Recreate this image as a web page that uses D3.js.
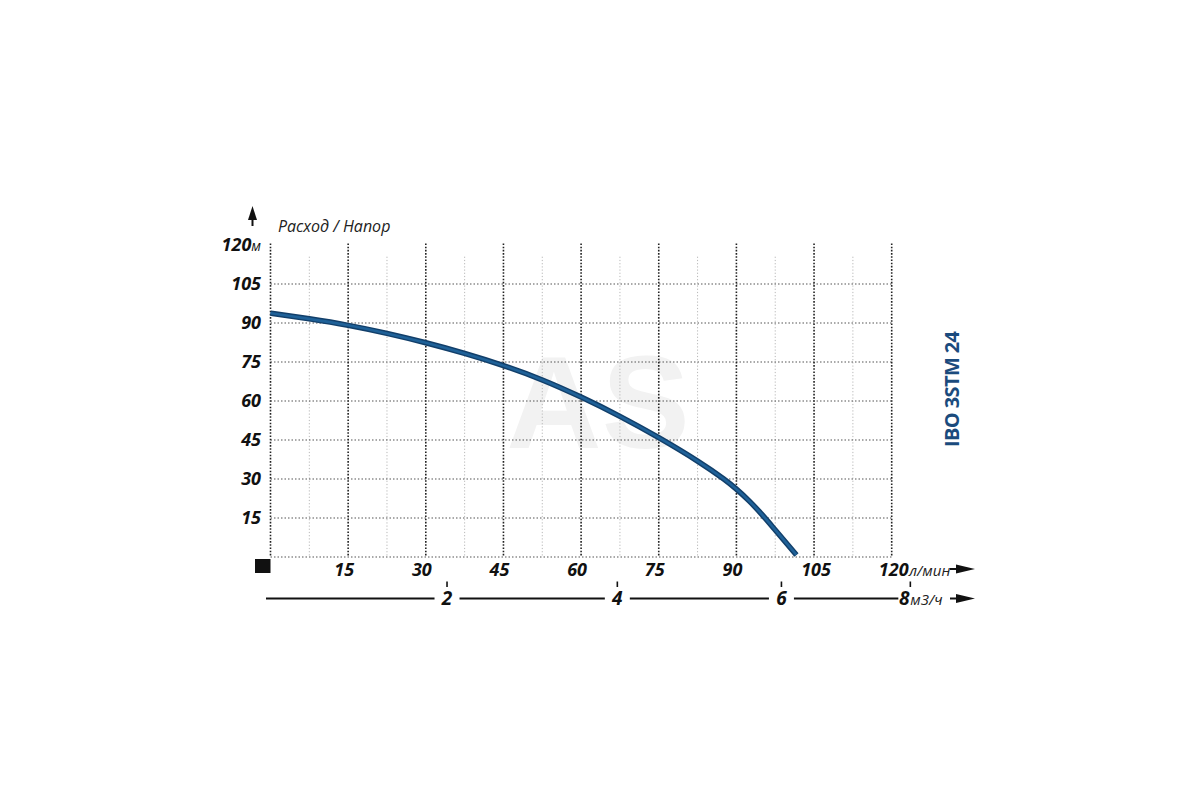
<!DOCTYPE html>
<html>
<head>
<meta charset="utf-8">
<script src="https://cdn.jsdelivr.net/npm/d3@7/dist/d3.min.js"></script>
<style>
html,body{margin:0;padding:0;background:#fff;}
svg{display:block;}
</style>
</head>
<body>
<script>
// ---- data ----
const flowLmin = [0, 7.5, 15, 22.5, 30, 37.5, 45, 52.5, 60, 67.5, 75, 82.5, 87.5, 90, 92.5, 95, 97.5, 101.6];
const headM    = [93.8, 91.6, 89.1, 86.0, 82.4, 78.3, 73.6, 68.1, 61.5, 54.1, 45.9, 36.9, 30.1, 26.1, 21.5, 16.2, 10.4, 0.8];
const xTicks = [15, 30, 45, 60, 75, 90, 105, 120];
const yTicks = [15, 30, 45, 60, 75, 90, 105, 120];
const xMinor = [7.5, 22.5, 37.5, 52.5, 67.5, 82.5, 97.5, 112.5];
const m3hLabels = [2, 4, 6, 8];
const m3hAtLmin = [34.1, 67.0, 98.7, 123.6]; // position of each m3/h mark on the l/min scale
const title = "IBO 3STM 24";
const yTitle = "Расход / Напор";
const yUnit = "м";
const xUnit = "л/мин";
const x2Unit = "м3/ч";

const W = 1200, H = 800;
const svg = d3.select("body").append("svg").attr("width", W).attr("height", H);

const x = d3.scaleLinear().domain([0, 120]).range([270.5, 891.7]);
const y = d3.scaleLinear().domain([0, 120]).range([557, 245]);

const FONT = "'Open Sans', 'DejaVu Sans', sans-serif";

// watermark
svg.append("text").attr("x", 598).attr("y", 448).attr("text-anchor", "middle")
  .attr("font-family", "'Liberation Sans', Arial, sans-serif").attr("font-weight", "bold")
  .attr("font-size", 132).attr("fill", "#f2f2f2").text("AS");

const grid = svg.append("g");
// minor verticals
grid.selectAll("line.minor").data(xMinor).join("line")
  .attr("x1", d => x(d)).attr("x2", d => x(d))
  .attr("y1", y(115.5)).attr("y2", y(0))
  .attr("stroke", "#b8b8b8").attr("stroke-width", 1).attr("stroke-dasharray", "1.2,2");
// horizontal
grid.selectAll("line.h").data([0, 15, 30, 45, 60, 75, 90, 105]).join("line")
  .attr("x1", x(0)).attr("x2", x(120))
  .attr("y1", d => y(d)).attr("y2", d => y(d))
  .attr("stroke", "#555").attr("stroke-width", 1.1).attr("stroke-dasharray", "1.5,2");
// major verticals
grid.selectAll("line.major").data([0].concat(xTicks)).join("line")
  .attr("x1", d => x(d)).attr("x2", d => x(d))
  .attr("y1", y(120.6)).attr("y2", y(0))
  .attr("stroke", "#222").attr("stroke-width", 1.6).attr("stroke-dasharray", "1.6,1.6");

// curve
const pts = flowLmin.map((f, i) => [f, headM[i]]);
const line = d3.line().x(d => x(d[0])).y(d => y(d[1])).curve(d3.curveNatural);
svg.append("path").attr("d", line(pts)).attr("fill", "none")
  .attr("stroke", "#123f6a").attr("stroke-width", 5.5);
svg.append("path").attr("d", line(pts)).attr("fill", "none")
  .attr("stroke", "#1f6198").attr("stroke-width", 2.6);

// y tick labels
svg.selectAll("text.yl").data(yTicks).join("text")
  .attr("x", 261).attr("y", d => y(d) + 6)
  .attr("text-anchor", "end").attr("font-family", FONT)
  .attr("font-style", "italic").attr("font-weight", "bold").attr("font-size", 18)
  .attr("fill", "#111")
  .each(function(d) {
    const t = d3.select(this);
    t.append("tspan").text(d);
    if (d === 120) t.append("tspan").attr("font-weight", "normal").attr("font-size", 14).text(yUnit);
  });

// y title and arrow
svg.append("text").attr("x", 278).attr("y", 232).attr("font-family", FONT)
  .attr("font-style", "italic").attr("font-size", 16).attr("fill", "#222").text(yTitle);
const ax = 252.5;
svg.append("path").attr("d", `M${ax},206 L${ax + 4.5},220 L${ax - 4.5},220 Z`).attr("fill", "#111");
svg.append("line").attr("x1", ax).attr("x2", ax).attr("y1", 218).attr("y2", 226)
  .attr("stroke", "#111").attr("stroke-width", 2);

// origin square
svg.append("rect").attr("x", x(0) - 15.5).attr("y", y(0) + 2).attr("width", 15.5).attr("height", 14).attr("fill", "#111");

// x tick labels (l/min)
svg.selectAll("text.xl").data(xTicks).join("text")
  .attr("x", d => x(d) + (d >= 105 ? 2 : -4)).attr("y", 576)
  .attr("text-anchor", "middle").attr("font-family", FONT)
  .attr("font-style", "italic").attr("font-weight", "bold").attr("font-size", 18)
  .attr("fill", "#111").text(d => d);
svg.append("text").attr("x", 909).attr("y", 576).attr("font-family", FONT)
  .attr("font-style", "italic").attr("font-size", 15).attr("fill", "#222").text(xUnit);
function arrow(x0, yy) {
  svg.append("line").attr("x1", x0).attr("x2", x0 + 10).attr("y1", yy).attr("y2", yy)
    .attr("stroke", "#111").attr("stroke-width", 2);
  svg.append("path").attr("d", `M${x0 + 6},${yy - 4.5} L${x0 + 25},${yy} L${x0 + 6},${yy + 4.5} Z`).attr("fill", "#111");
}
arrow(950, 569);

// second axis (m3/h)
const ly = 598.5;
const mx = m3hAtLmin.map(v => x(v));
const segs = [[266, mx[0] - 12.5], [mx[0] + 12.5, mx[1] - 12.5], [mx[1] + 12.5, mx[2] - 12.5], [mx[2] + 12.5, mx[3] - 12]];
svg.selectAll("line.seg").data(segs).join("line")
  .attr("x1", d => d[0]).attr("x2", d => d[1]).attr("y1", ly).attr("y2", ly)
  .attr("stroke", "#111").attr("stroke-width", 2);
svg.selectAll("line.tk").data(m3hAtLmin).join("line")
  .attr("x1", d => x(d)).attr("x2", d => x(d)).attr("y1", ly - 17).attr("y2", ly - 11.5)
  .attr("stroke", "#111").attr("stroke-width", 1.6);
svg.selectAll("text.m3").data(m3hLabels).join("text")
  .attr("x", (d, i) => mx[i] - (i === 3 ? 6 : 0)).attr("y", ly + 6.5)
  .attr("text-anchor", "middle").attr("font-family", FONT)
  .attr("font-style", "italic").attr("font-weight", "bold").attr("font-size", 19)
  .attr("fill", "#111").text(d => d);
svg.append("text").attr("x", mx[3] + 0).attr("y", ly + 6.5).attr("font-family", FONT)
  .attr("font-style", "italic").attr("font-size", 15).attr("fill", "#222").text(x2Unit);
arrow(950, ly);

// right title
svg.append("text").attr("transform", `translate(959,389) rotate(-90)`)
  .attr("text-anchor", "middle").attr("font-family", FONT).attr("font-weight", "bold")
  .attr("font-size", 20).attr("textLength", 116).attr("lengthAdjust", "spacing")
  .attr("fill", "#1b4b7d").text(title);
</script>
</body>
</html>
